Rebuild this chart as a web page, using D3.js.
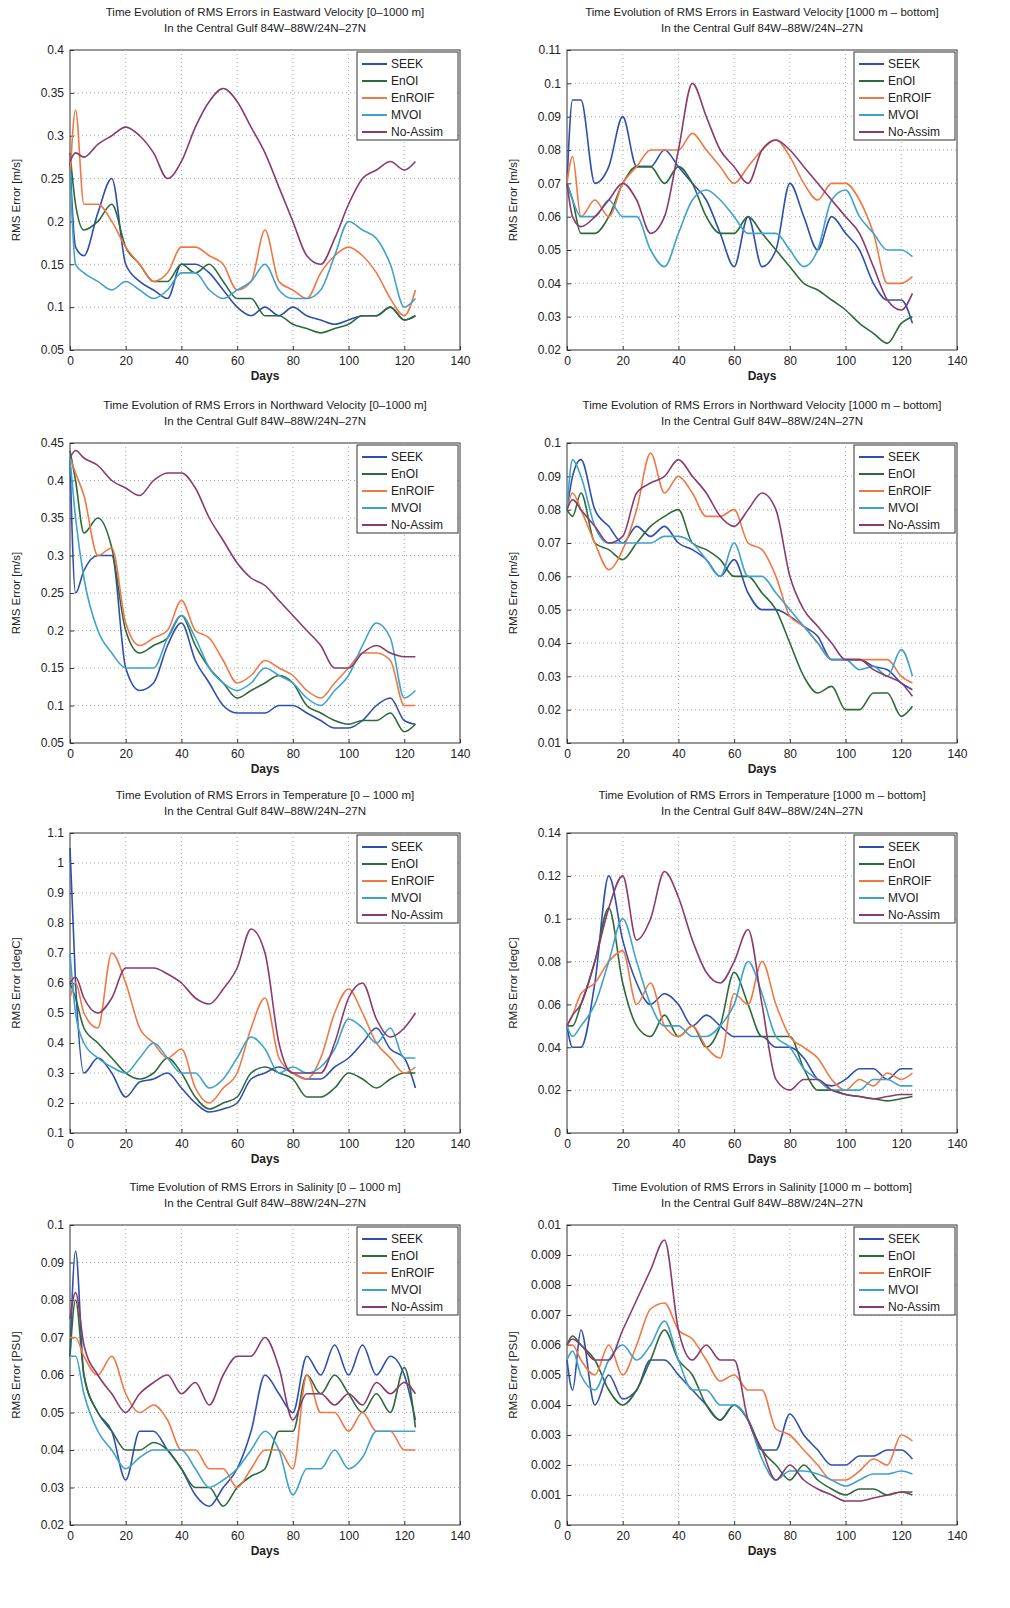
<!DOCTYPE html>
<html lang="en">
<head>
<meta charset="UTF-8">
<title>RMS Errors</title>
<style>
  body { margin: 0; background: #fff; }
  text { font-family: "Liberation Sans", Arial, sans-serif; fill: #222; }
</style>
</head>
<body>
<div id="chart"></div>
<script src="https://d3js.org/d3.v7.min.js"></script>
<script>
// sample days shared by all series
var days = [0,2,5,10,15,20,25,30,35,40,45,50,55,60,65,70,75,80,85,90,95,100,105,110,115,120,124];
var seriesNames = ["SEEK", "EnOI", "EnROIF", "MVOI", "No-Assim"];
var seriesColors = ["#2f4fb0", "#2d6a3a", "#f07845", "#3fa2cc", "#8a3b6c"];

var titles = [
  ["Time Evolution of RMS Errors in Eastward Velocity [0\u20131000 m]", "In the Central Gulf 84W\u201388W/24N\u201327N"],
  ["Time Evolution of RMS Errors in Eastward Velocity [1000 m \u2013 bottom]", "In the Central Gulf 84W\u201388W/24N\u201327N"],
  ["Time Evolution of RMS Errors in Northward Velocity [0\u20131000 m]", "In the Central Gulf 84W\u201388W/24N\u201327N"],
  ["Time Evolution of RMS Errors in Northward Velocity [1000 m \u2013 bottom]", "In the Central Gulf 84W\u201388W/24N\u201327N"],
  ["Time Evolution of RMS Errors in Temperature [0 \u2013 1000 m]", "In the Central Gulf 84W\u201388W/24N\u201327N"],
  ["Time Evolution of RMS Errors in Temperature [1000 m \u2013 bottom]", "In the Central Gulf 84W\u201388W/24N\u201327N"],
  ["Time Evolution of RMS Errors in Salinity [0 \u2013 1000 m]", "In the Central Gulf 84W\u201388W/24N\u201327N"],
  ["Time Evolution of RMS Errors in Salinity [1000 m \u2013 bottom]", "In the Central Gulf 84W\u201388W/24N\u201327N"]
];
var yLabels = ["RMS Error [m/s]", "RMS Error [m/s]", "RMS Error [m/s]", "RMS Error [m/s]",
               "RMS Error [degC]", "RMS Error [degC]", "RMS Error [PSU]", "RMS Error [PSU]"];
var yDomains = [[0.05,0.4],[0.02,0.11],[0.05,0.45],[0.01,0.1],[0.1,1.1],[0,0.14],[0.02,0.1],[0,0.01]];
var yStepsPerPanel = [0.05, 0.01, 0.05, 0.01, 0.1, 0.02, 0.01, 0.001];
var xTicks = [0,20,40,60,80,100,120,140];

// panel 1: eastward velocity 0-1000 m
var eu1 = [
  [0.27,0.17,0.16,0.21,0.25,0.15,0.13,0.12,0.11,0.15,0.15,0.14,0.12,0.10,0.09,0.10,0.09,0.10,0.09,0.085,0.08,0.085,0.09,0.09,0.10,0.085,0.09],
  [0.28,0.22,0.19,0.20,0.22,0.17,0.15,0.13,0.13,0.15,0.14,0.15,0.13,0.11,0.11,0.09,0.09,0.08,0.075,0.07,0.075,0.08,0.09,0.09,0.10,0.085,0.09],
  [0.25,0.33,0.22,0.22,0.20,0.17,0.15,0.13,0.14,0.17,0.17,0.16,0.15,0.12,0.13,0.19,0.13,0.12,0.11,0.14,0.16,0.17,0.16,0.14,0.11,0.09,0.12],
  [0.26,0.15,0.14,0.13,0.12,0.13,0.12,0.11,0.12,0.14,0.14,0.12,0.11,0.12,0.13,0.15,0.12,0.11,0.11,0.12,0.16,0.20,0.19,0.18,0.15,0.10,0.11],
  [0.27,0.28,0.275,0.29,0.30,0.31,0.30,0.28,0.25,0.27,0.31,0.34,0.355,0.34,0.31,0.28,0.24,0.20,0.16,0.15,0.18,0.22,0.25,0.26,0.27,0.26,0.27]
];
// panel 2: eastward velocity 1000 m - bottom
var eu2 = [
  [0.07,0.095,0.095,0.07,0.075,0.09,0.075,0.075,0.08,0.075,0.07,0.065,0.055,0.045,0.06,0.045,0.05,0.07,0.06,0.05,0.06,0.055,0.05,0.04,0.035,0.035,0.028],
  [0.07,0.065,0.055,0.055,0.06,0.07,0.075,0.075,0.07,0.075,0.07,0.06,0.055,0.055,0.06,0.055,0.05,0.045,0.04,0.038,0.035,0.032,0.028,0.025,0.022,0.028,0.03],
  [0.07,0.078,0.06,0.065,0.06,0.07,0.075,0.08,0.08,0.08,0.085,0.08,0.075,0.07,0.075,0.08,0.083,0.078,0.07,0.065,0.07,0.07,0.065,0.055,0.04,0.04,0.042],
  [0.07,0.065,0.06,0.06,0.065,0.06,0.06,0.05,0.045,0.055,0.065,0.068,0.065,0.06,0.055,0.055,0.055,0.05,0.045,0.05,0.065,0.068,0.06,0.055,0.05,0.05,0.048],
  [0.07,0.06,0.057,0.06,0.065,0.07,0.065,0.055,0.06,0.08,0.10,0.09,0.08,0.075,0.07,0.08,0.083,0.08,0.075,0.07,0.065,0.06,0.055,0.045,0.035,0.032,0.037]
];
// panel 3: northward velocity 0-1000 m
var nv1 = [
  [0.43,0.25,0.28,0.30,0.30,0.15,0.12,0.13,0.18,0.21,0.16,0.13,0.10,0.09,0.09,0.09,0.10,0.10,0.09,0.08,0.07,0.07,0.08,0.10,0.11,0.08,0.075],
  [0.44,0.40,0.33,0.35,0.31,0.20,0.17,0.18,0.19,0.22,0.18,0.15,0.13,0.11,0.12,0.13,0.14,0.13,0.10,0.09,0.08,0.075,0.08,0.08,0.09,0.065,0.075],
  [0.43,0.41,0.38,0.30,0.31,0.21,0.18,0.19,0.20,0.24,0.20,0.19,0.16,0.13,0.14,0.16,0.15,0.14,0.12,0.11,0.13,0.15,0.17,0.17,0.16,0.10,0.10],
  [0.43,0.35,0.27,0.20,0.17,0.15,0.15,0.15,0.19,0.22,0.19,0.15,0.13,0.12,0.13,0.15,0.14,0.13,0.11,0.10,0.12,0.14,0.18,0.21,0.19,0.11,0.12],
  [0.43,0.44,0.43,0.42,0.40,0.39,0.38,0.40,0.41,0.41,0.39,0.35,0.32,0.29,0.27,0.26,0.24,0.22,0.20,0.18,0.15,0.15,0.17,0.18,0.17,0.165,0.165]
];
// panel 4: northward velocity 1000 m - bottom
var nv2 = [
  [0.08,0.09,0.095,0.08,0.075,0.07,0.075,0.072,0.075,0.07,0.068,0.065,0.06,0.065,0.055,0.05,0.05,0.048,0.045,0.042,0.035,0.035,0.035,0.033,0.032,0.028,0.026],
  [0.08,0.078,0.085,0.07,0.068,0.065,0.07,0.075,0.078,0.08,0.07,0.068,0.065,0.06,0.06,0.055,0.05,0.04,0.03,0.025,0.027,0.02,0.02,0.025,0.025,0.018,0.021],
  [0.08,0.085,0.08,0.07,0.062,0.068,0.08,0.097,0.085,0.09,0.085,0.078,0.078,0.08,0.07,0.068,0.06,0.048,0.045,0.04,0.035,0.035,0.035,0.035,0.035,0.03,0.028],
  [0.08,0.095,0.09,0.075,0.07,0.07,0.07,0.07,0.072,0.072,0.07,0.065,0.06,0.07,0.06,0.06,0.055,0.05,0.045,0.04,0.035,0.035,0.032,0.033,0.03,0.038,0.03],
  [0.08,0.083,0.08,0.075,0.07,0.072,0.085,0.088,0.09,0.095,0.09,0.085,0.078,0.075,0.08,0.085,0.08,0.06,0.05,0.045,0.04,0.035,0.035,0.032,0.03,0.028,0.024]
];
// panel 5: temperature 0-1000 m
var tp1 = [
  [1.05,0.6,0.3,0.35,0.3,0.22,0.27,0.28,0.3,0.25,0.2,0.17,0.18,0.2,0.28,0.3,0.32,0.3,0.28,0.28,0.32,0.35,0.4,0.45,0.38,0.35,0.25],
  [0.6,0.55,0.45,0.4,0.35,0.3,0.28,0.3,0.35,0.3,0.22,0.18,0.2,0.22,0.3,0.32,0.3,0.28,0.22,0.22,0.25,0.3,0.28,0.25,0.28,0.3,0.3],
  [0.55,0.6,0.5,0.45,0.7,0.6,0.45,0.4,0.35,0.38,0.25,0.2,0.25,0.3,0.45,0.55,0.35,0.3,0.28,0.35,0.5,0.58,0.5,0.4,0.35,0.3,0.32],
  [0.7,0.5,0.4,0.35,0.32,0.3,0.35,0.4,0.35,0.3,0.3,0.25,0.28,0.35,0.42,0.38,0.3,0.32,0.3,0.32,0.38,0.48,0.45,0.4,0.45,0.35,0.35],
  [0.6,0.62,0.55,0.5,0.55,0.65,0.65,0.65,0.63,0.6,0.55,0.53,0.58,0.65,0.78,0.7,0.4,0.3,0.3,0.3,0.4,0.55,0.6,0.48,0.42,0.45,0.5]
];
// panel 6: temperature 1000 m - bottom
var tp2 = [
  [0.05,0.04,0.04,0.07,0.12,0.09,0.07,0.06,0.065,0.06,0.05,0.055,0.05,0.045,0.045,0.045,0.04,0.04,0.035,0.025,0.022,0.025,0.03,0.03,0.025,0.03,0.03],
  [0.05,0.05,0.06,0.08,0.105,0.07,0.05,0.045,0.055,0.045,0.05,0.04,0.05,0.075,0.06,0.045,0.045,0.045,0.03,0.02,0.02,0.018,0.017,0.016,0.015,0.016,0.017],
  [0.05,0.055,0.065,0.07,0.08,0.085,0.06,0.07,0.05,0.045,0.05,0.04,0.035,0.065,0.06,0.08,0.06,0.045,0.04,0.035,0.025,0.02,0.025,0.022,0.028,0.025,0.028],
  [0.05,0.045,0.05,0.06,0.08,0.1,0.08,0.06,0.05,0.05,0.045,0.045,0.05,0.06,0.08,0.065,0.045,0.04,0.03,0.025,0.02,0.02,0.02,0.025,0.025,0.022,0.022],
  [0.05,0.055,0.06,0.08,0.105,0.12,0.09,0.1,0.122,0.11,0.09,0.075,0.07,0.08,0.095,0.06,0.025,0.02,0.025,0.025,0.02,0.018,0.017,0.016,0.017,0.018,0.018]
];
// panel 7: salinity 0-1000 m
var sl1 = [
  [0.065,0.093,0.06,0.05,0.045,0.032,0.045,0.045,0.04,0.035,0.028,0.025,0.03,0.035,0.045,0.06,0.055,0.05,0.065,0.06,0.068,0.06,0.068,0.06,0.065,0.06,0.048],
  [0.065,0.08,0.06,0.05,0.045,0.04,0.04,0.042,0.04,0.035,0.03,0.03,0.025,0.03,0.033,0.035,0.045,0.045,0.06,0.055,0.06,0.055,0.05,0.055,0.05,0.062,0.046],
  [0.07,0.07,0.065,0.06,0.065,0.055,0.05,0.052,0.048,0.04,0.04,0.035,0.035,0.03,0.035,0.04,0.04,0.035,0.06,0.05,0.05,0.045,0.05,0.045,0.045,0.04,0.04],
  [0.065,0.065,0.055,0.045,0.04,0.035,0.038,0.04,0.04,0.04,0.035,0.03,0.032,0.035,0.04,0.045,0.04,0.028,0.035,0.035,0.04,0.035,0.038,0.045,0.045,0.045,0.045],
  [0.075,0.082,0.068,0.06,0.055,0.05,0.055,0.058,0.06,0.055,0.058,0.052,0.06,0.065,0.065,0.07,0.062,0.048,0.055,0.055,0.052,0.055,0.052,0.058,0.055,0.058,0.055]
];
// panel 8: salinity 1000 m - bottom
var sl2 = [
  [0.0055,0.0045,0.0065,0.004,0.005,0.0042,0.0045,0.0055,0.0055,0.005,0.0045,0.004,0.0035,0.004,0.0035,0.0025,0.0025,0.0037,0.003,0.0025,0.002,0.002,0.0023,0.0023,0.0025,0.0025,0.0022],
  [0.006,0.0063,0.006,0.0055,0.0045,0.004,0.0045,0.0055,0.0065,0.0055,0.005,0.004,0.0035,0.004,0.0035,0.0025,0.002,0.0015,0.002,0.0015,0.0012,0.001,0.0012,0.0012,0.001,0.0011,0.001],
  [0.006,0.006,0.0055,0.005,0.006,0.005,0.006,0.0072,0.0074,0.0065,0.0062,0.0055,0.0048,0.005,0.0045,0.0045,0.0032,0.003,0.0025,0.002,0.0015,0.0015,0.0018,0.0022,0.002,0.003,0.0028],
  [0.0055,0.0058,0.005,0.0045,0.0055,0.006,0.0055,0.006,0.0068,0.0055,0.0045,0.0045,0.004,0.004,0.0035,0.0022,0.0015,0.0018,0.0018,0.0017,0.0015,0.0013,0.0015,0.0017,0.0017,0.0018,0.0017],
  [0.006,0.0062,0.006,0.0055,0.0055,0.0065,0.0075,0.0085,0.0095,0.0065,0.0055,0.006,0.0055,0.0055,0.0035,0.0025,0.0015,0.002,0.0015,0.0012,0.001,0.0008,0.0008,0.0009,0.001,0.0011,0.0011]
];
var panelData = [eu1, eu2, nv1, nv2, tp1, tp2, sl1, sl2];

var W = 1010, H = 1608;
var pw = 390, ph = 300;
var lefts = [70, 567];
var tops = [50, 443, 833, 1225];

var svg = d3.select("#chart").append("svg").attr("width", W).attr("height", H);

panelData.forEach(function(series, p) {
    var col = p % 2, row = Math.floor(p / 2);
    var g = svg.append("g").attr("transform", "translate(" + lefts[col] + "," + tops[row] + ")");

    var x = d3.scaleLinear().domain([0, 140]).range([0, pw]);
    var y = d3.scaleLinear().domain(yDomains[p]).range([ph, 0]);
    var step = yStepsPerPanel[p];
    var n = Math.round((yDomains[p][1] - yDomains[p][0]) / step);
    var yTicks = d3.range(n + 1).map(function(i) { return +(yDomains[p][0] + i * step).toFixed(4); });

    g.append("rect").attr("width", pw).attr("height", ph).attr("fill", "#fff").attr("stroke", "#333");

    // dotted grid
    g.selectAll(".gx").data(xTicks.slice(1, -1)).enter().append("line")
        .attr("x1", x).attr("x2", x).attr("y1", 0).attr("y2", ph)
        .attr("stroke", "#aaa").attr("stroke-dasharray", "1,3");
    g.selectAll(".gy").data(yTicks.slice(1, -1)).enter().append("line")
        .attr("y1", y).attr("y2", y).attr("x1", 0).attr("x2", pw)
        .attr("stroke", "#aaa").attr("stroke-dasharray", "1,3");

    var xa = g.append("g").attr("transform", "translate(0," + ph + ")")
        .call(d3.axisBottom(x).tickValues(xTicks).tickSizeInner(-4).tickSizeOuter(0).tickPadding(6));
    var ya = g.append("g")
        .call(d3.axisLeft(y).tickValues(yTicks).tickFormat(d3.format("~g")).tickSizeInner(-4).tickSizeOuter(0).tickPadding(6));
    [xa, ya].forEach(function(a) {
        a.select(".domain").remove();
        a.selectAll("line").attr("stroke", "#333");
        a.selectAll("text").attr("font-size", 12).style("font-family", "Liberation Sans, Arial");
    });

    var line = d3.line().curve(d3.curveMonotoneX)
        .x(function(d, i) { return x(days[i]); }).y(function(d) { return y(d); });
    series.forEach(function(vals, s) {
        g.append("path").datum(vals).attr("d", line)
            .attr("fill", "none").attr("stroke", seriesColors[s]).attr("stroke-width", 1.6);
    });

    g.append("text").attr("x", pw / 2).attr("y", ph + 30).attr("text-anchor", "middle")
        .attr("font-size", 12).attr("font-weight", "bold").text("Days");
    g.append("text").attr("transform", "translate(-50," + (ph / 2) + ") rotate(-90)")
        .attr("text-anchor", "middle").attr("font-size", 11.5).text(yLabels[p]);
    g.append("text").attr("x", pw / 2).attr("y", -34).attr("text-anchor", "middle")
        .attr("font-size", 11.5).text(titles[p][0]);
    g.append("text").attr("x", pw / 2).attr("y", -18).attr("text-anchor", "middle")
        .attr("font-size", 11.5).text(titles[p][1]);

    // legend
    var lg = g.append("g").attr("transform", "translate(" + (pw - 103) + ",2)");
    lg.append("rect").attr("width", 101).attr("height", 88).attr("fill", "#fff").attr("stroke", "#333");
    seriesNames.forEach(function(name, s) {
        var yy = 12 + s * 17;
        lg.append("line").attr("x1", 5).attr("x2", 30).attr("y1", yy).attr("y2", yy)
            .attr("stroke", seriesColors[s]).attr("stroke-width", 2);
        lg.append("text").attr("x", 34).attr("y", yy + 4).attr("font-size", 12).text(name);
    });
});
</script>
</body>
</html>
